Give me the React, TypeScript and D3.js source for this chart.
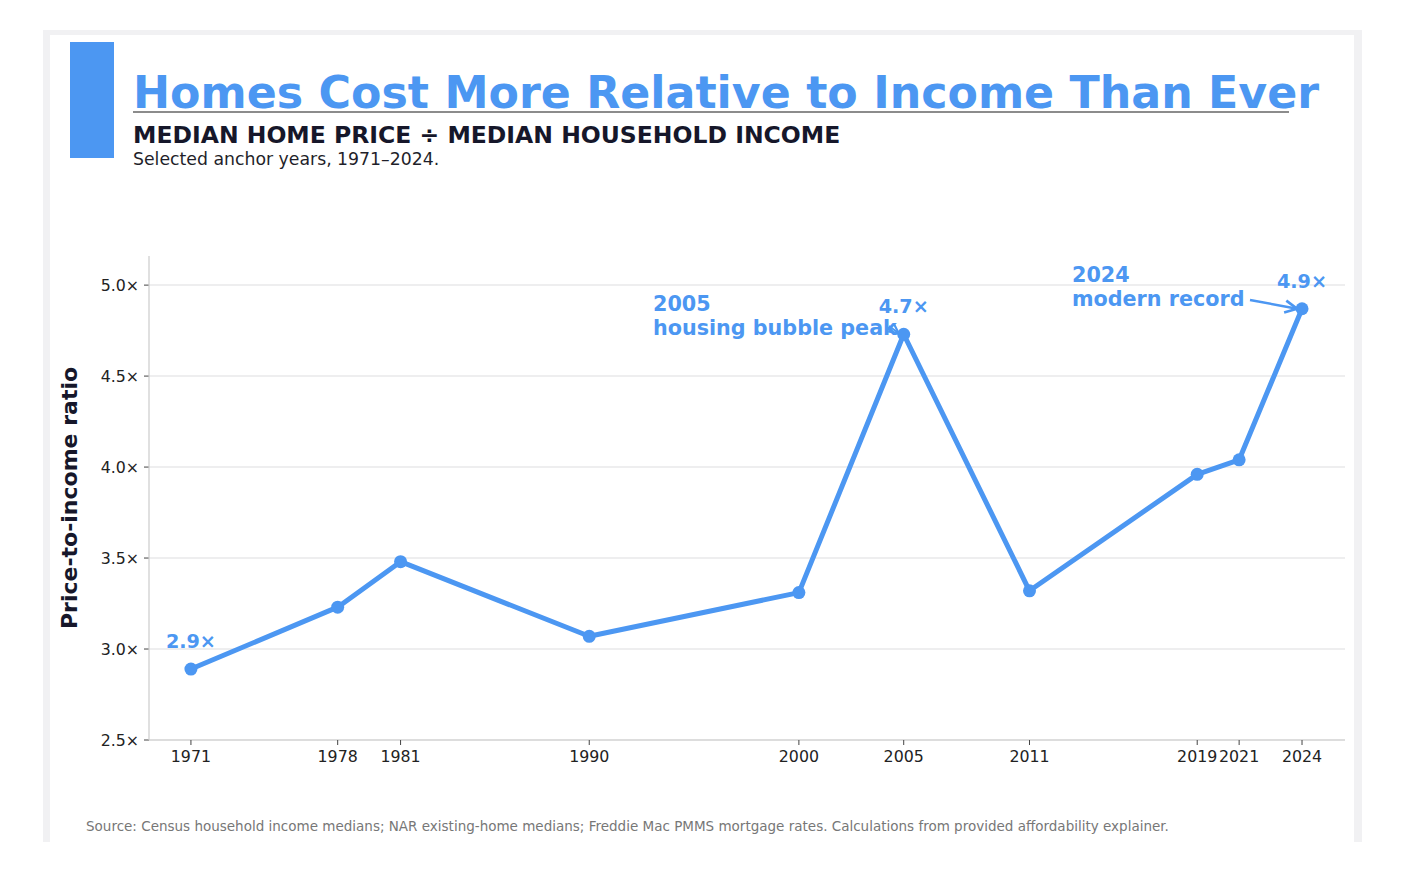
import React from 'react';
import * as d3 from 'd3';

const years = [1971, 1978, 1981, 1990, 2000, 2005, 2011, 2019, 2021, 2024];
const ratios = [2.89, 3.23, 3.48, 3.07, 3.31, 4.73, 3.32, 3.96, 4.04, 4.87];
const yTicks = [2.5, 3.0, 3.5, 4.0, 4.5, 5.0];

const title = 'Homes Cost More Relative to Income Than Ever';
const subtitle = 'MEDIAN HOME PRICE ÷ MEDIAN HOUSEHOLD INCOME';
const caption = 'Selected anchor years, 1971–2024.';
const source = 'Source: Census household income medians; NAR existing-home medians; Freddie Mac PMMS mortgage rates. Calculations from provided affordability explainer.';

const W = 1416;
const H = 874;
const blue = '#4C97F2';
const font = 'DejaVu Sans, sans-serif';
const plot = { left: 149, right: 1345, top: 256, bottom: 740 };

const x = d3.scaleLinear().domain([1969, 2026.05]).range([plot.left, plot.right]);
const y = d3.scaleLinear().domain([2.5, 5.16]).range([plot.bottom, plot.top]);

const line = d3.line<number>()
  .x((d, i) => x(years[i]))
  .y(d => y(d));

const App = () => {
  const pts = years.map((yr, i) => ({ yr, v: ratios[i], cx: x(yr), cy: y(ratios[i]) }));
  const p1971 = pts[0];
  const p2005 = pts[5];
  const p2024 = pts[9];

  return (
    <svg width={W} height={H} style={{ position: 'absolute', left: 0, top: 0 }} fontFamily={font}>
      <defs>
        <marker id="arr" viewBox="0 0 10 10" refX="9" refY="5" markerWidth="6" markerHeight="6" orient="auto">
          <path d="M1,1 L9,5 L1,9" fill="none" stroke={blue} strokeWidth={1.8} />
        </marker>
      </defs>
      <rect width={W} height={H} fill="#fff" />
      {/* card */}
      <rect x={43} y={30} width={1319} height={812} fill="#f1f1f3" />
      <rect x={50} y={35} width={1304} height={807} fill="#fff" />

      {/* header */}
      <rect x={70} y={42} width={44} height={116} fill={blue} />
      <text x={133} y={108} fontSize={44.3} fontWeight="bold" fill={blue}>{title}</text>
      <line x1={133} x2={1289} y1={112} y2={112} stroke="#666" strokeWidth={1.5} />
      <text x={133} y={143} fontSize={23.5} fontWeight="bold" fill="#16172a">{subtitle}</text>
      <text x={133} y={165} fontSize={17.3} fill="#1f1f2a">{caption}</text>

      {/* grid */}
      {yTicks.map(t => (
        <g key={t}>
          <line x1={plot.left} x2={plot.right} y1={y(t)} y2={y(t)} stroke="#e8e8ea" strokeWidth={1.5} />
          <line x1={plot.left - 5} x2={plot.left} y1={y(t)} y2={y(t)} stroke="#444" strokeWidth={1} />
          <text x={plot.left - 10} y={y(t)} dy="0.35em" textAnchor="end" fontSize={15.8} fill="#222">
            {t.toFixed(1)}×
          </text>
        </g>
      ))}

      {/* axes */}
      <line x1={plot.left} x2={plot.left} y1={plot.top} y2={plot.bottom} stroke="#ccc" strokeWidth={1.2} />
      <line x1={plot.left} x2={plot.right} y1={plot.bottom} y2={plot.bottom} stroke="#ccc" strokeWidth={1.2} />
      {years.map(yr => (
        <g key={yr}>
          <line x1={x(yr)} x2={x(yr)} y1={plot.bottom} y2={plot.bottom + 5} stroke="#444" strokeWidth={1} />
          <text x={x(yr)} y={plot.bottom + 22} textAnchor="middle" fontSize={15.8} fill="#222">{yr}</text>
        </g>
      ))}

      <text transform={`translate(77, ${(plot.top + plot.bottom) / 2}) rotate(-90)`} textAnchor="middle" fontSize={22} fontWeight="bold" fill="#16172a">
        Price-to-income ratio
      </text>

      {/* series */}
      <path d={line(ratios) || ''} fill="none" stroke={blue} strokeWidth={5} strokeLinejoin="round" />
      {pts.map(p => (
        <circle key={p.yr} cx={p.cx} cy={p.cy} r={6.5} fill={blue} />
      ))}

      {/* value labels */}
      <text x={p1971.cx} y={p1971.cy - 21} textAnchor="middle" fontSize={19.2} fontWeight="bold" fill={blue}>2.9×</text>
      <text x={p2005.cx} y={p2005.cy - 21} textAnchor="middle" fontSize={19.2} fontWeight="bold" fill={blue}>4.7×</text>
      <text x={p2024.cx} y={p2024.cy - 21} textAnchor="middle" fontSize={19.2} fontWeight="bold" fill={blue}>4.9×</text>

      {/* annotations */}
      <text x={653} y={311} fontSize={20.7} fontWeight="bold" fill={blue}>
        <tspan x={653}>2005</tspan>
        <tspan x={653} dy={24}>housing bubble peak</tspan>
      </text>
      <line x1={889} y1={326} x2={p2005.cx - 5} y2={p2005.cy - 1} stroke={blue} strokeWidth={2} markerEnd="url(#arr)" />
      <text x={1072} y={282} fontSize={20.7} fontWeight="bold" fill={blue}>
        <tspan x={1072}>2024</tspan>
        <tspan x={1072} dy={24}>modern record</tspan>
      </text>
      <line x1={1250} y1={300} x2={p2024.cx - 5} y2={p2024.cy} stroke={blue} strokeWidth={2.5} markerEnd="url(#arr)" />

      <text x={86} y={831} fontSize={13.5} fill="#777">{source}</text>
    </svg>
  );
};

export default App;
